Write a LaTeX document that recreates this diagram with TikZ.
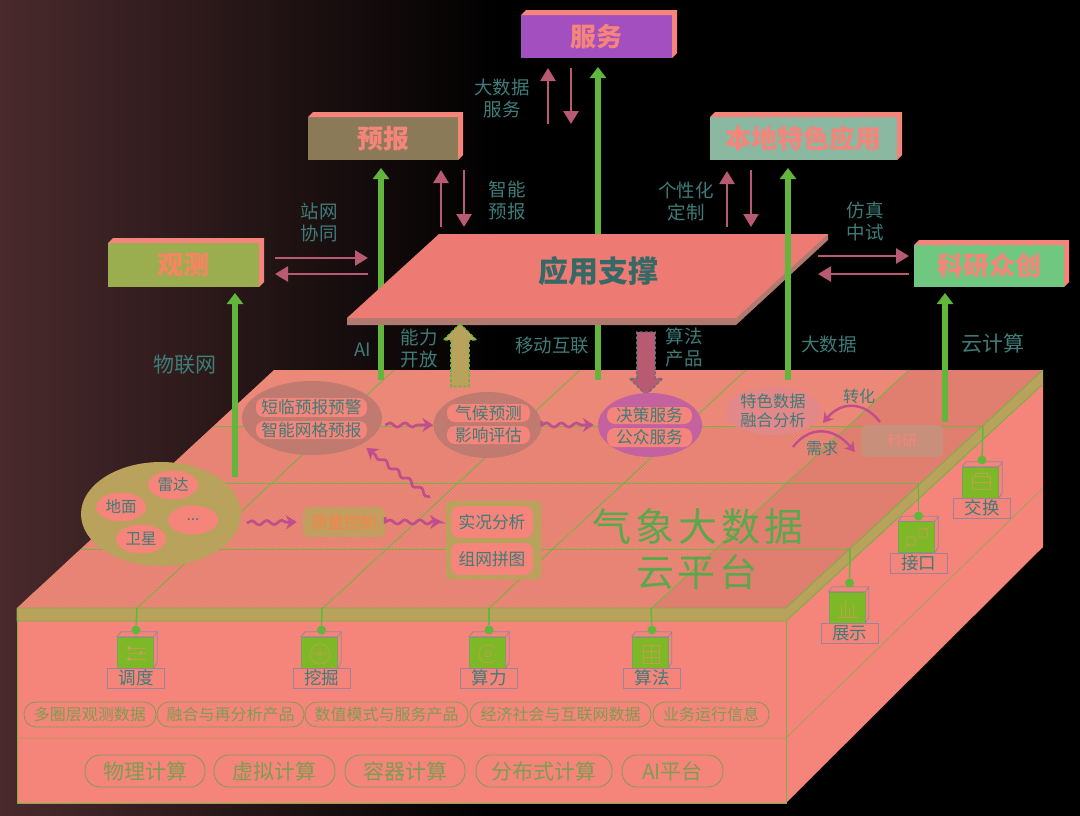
\documentclass[tikz,border=0pt]{standalone}
\usepackage{xcolor}
\usepackage{fontspec}
\setmainfont{Noto Sans CJK SC}
\usetikzlibrary{arrows.meta, shapes.geometric, shapes.arrows, patterns, decorations.pathmorphing}

\definecolor{salmon}{HTML}{F5857A}
\definecolor{deck}{HTML}{EB8877}
\definecolor{deckdark}{HTML}{E07F70}
\definecolor{gold}{HTML}{B9A25C}
\definecolor{teal}{HTML}{3F7C78}
\definecolor{leaf}{HTML}{62B63C}
\definecolor{cubegreen}{HTML}{7DB826}
\definecolor{rose}{HTML}{B85A72}
\definecolor{wave}{HTML}{C04E8C}
\definecolor{olive}{HTML}{7E9C52}
\definecolor{edge}{HTML}{9C8296}

\newcommand{\fs}[1]{\fontsize{#1}{#1}\selectfont}

\begin{document}
\begin{tikzpicture}[
        x=1pt, y=-1pt,
        lift/.style={rectangle, inner sep=0pt, outer sep=0pt, font=\bfseries\fs{26}, text=salmon},
        note/.style={font=\fontsize{18.5}{22}\selectfont, text=teal, align=center, inner sep=0pt},
        widenote/.style={note, font=\fs{21}},
        grid/.style={draw=leaf!75!gold, line width=0.9pt},
        hang/.style={draw=leaf, line width=1.5pt},
        greenup/.style={draw=leaf, line width=6.5pt, -{Triangle[width=16pt, length=11pt]}},
        rosearrow/.style={draw=rose, line width=2.6pt, -{Triangle[width=15pt, length=13pt]}},
        waveline/.style={draw=wave, line width=2.7pt, -{Stealth[width=14pt, length=11pt]}, decorate, decoration={snake, amplitude=2.1pt, segment length=15pt, post length=10pt}},
        bendline/.style={draw=wave, line width=2.4pt, -{Stealth[width=12pt, length=10pt]}},
        pill/.style={rectangle, rounded corners=8pt, fill=salmon, inner sep=0pt, outer sep=0pt, font=\fs{16.7}, text=teal},
        bubble/.style={ellipse, fill=salmon, inner sep=0pt, minimum width=50pt, minimum height=29pt, font=\fs{15.5}, text=teal},
        tag/.style={rectangle, draw=edge, fill=salmon, line width=0.9pt, inner sep=0pt, font=\fs{17.5}, text=teal},
        frontcube/.style={rectangle, fill=cubegreen, draw=leaf!60!edge, line width=0.7pt, inner sep=0pt, minimum width=36pt, minimum height=31pt},
        datapill/.style={rectangle, rounded corners=12pt, draw=olive, fill=salmon, line width=0.8pt, inner sep=0pt, minimum height=25pt, font=\fs{16}, text=olive},
        calcpill/.style={rectangle, rounded corners=15pt, draw=olive, fill=salmon, line width=0.8pt, inner sep=0pt, minimum height=32pt, font=\fs{21}, text=olive},
        dot/.style={circle, fill=leaf, inner sep=0pt, minimum size=9pt},
        icon/.style={draw=gold!85!orange, line width=0.8pt},
        blockarrow/.style={single arrow, line width=1.3pt, densely dashed, inner xsep=0pt, inner ysep=8.5pt, single arrow head extend=7.5pt, minimum height=63pt}
    ]
    \useasboundingbox (0,0) rectangle (1080,815);

    % Background
    \fill[black] (-1,-1) rectangle (1081,816);
    \shade[left color={rgb,255:red,74;green,42;blue,44}, right color=black] (-1,-1) rectangle (500,816);

    % Platform faces
    \fill[salmon] (17,621) -- (786,621) -- (786,803) -- (17,803) -- cycle;
    \fill[salmon] (786,621) -- (1043,384) -- (1043,547) -- (786,803) -- cycle;
    \fill[deck] (17,608) -- (786,608) -- (1043,370) -- (274,370) -- cycle;
    \fill[deckdark] (652,608) -- (786,608) -- (1043,370) -- (909,370) -- cycle;
    \fill[pattern=north east lines, pattern color=deckdark] (17,608) -- (652,608) -- (848,426) -- (214,426) -- cycle;
    \fill[gold] (17,608) -- (786,608) -- (1043,370) -- (1043,384) -- (786,621) -- (17,621) -- cycle;
    \draw[grid] (17,621) -- (17,803) -- (786,803) -- (786,621);
    \draw[grid] (17,608) -- (17,621) -- (786,621) -- (1043,384);
    \draw[grid] (17,608) -- (786,608) -- (1043,370);
    \draw[grid, line width=0.5pt] (17,738) -- (786,738) -- (1043,488);

    % Grid on the deck
    \draw[grid] (214,426) -- (983,426);
    \draw[grid] (152,483) -- (919,483);
    \draw[grid] (81,549) -- (850,549);
    \draw[grid] (137,608) -- (394,370);
    \draw[grid] (323,608) -- (580,370);
    \draw[grid] (489,608) -- (746,370);
    \draw[grid] (652,608) -- (909,370);

    % Top level boxes
    \node[lift, fill={rgb,255:red,154;green,174;blue,80}, minimum width=151pt, minimum height=44pt, text=orange!20!salmon] (observe) at (183.5,265) {观测};
    \node[lift, fill={rgb,255:red,138;green,122;blue,88}, minimum width=150pt, minimum height=43pt] (forecast) at (383,138.5) {预报};
    \node[lift, fill={rgb,255:red,164;green,79;blue,192}, minimum width=151pt, minimum height=43pt] (service) at (596.5,36.5) {服务};
    \node[lift, fill={rgb,255:red,138;green,184;blue,160}, minimum width=187pt, minimum height=43pt] (local) at (803.5,138.5) {本地特色应用};
    \node[lift, fill={rgb,255:red,112;green,200;blue,128}, minimum width=150pt, minimum height=42pt] (research) at (989,266) {科研众创};
    \fill[salmon] (observe.north west) -- ++(5,-5) -- ++(151,0) -- ++(0,44) -- (observe.south east) -- (observe.north east) -- cycle;
    \fill[salmon] (forecast.north west) -- ++(5,-5) -- ++(150,0) -- ++(0,43) -- (forecast.south east) -- (forecast.north east) -- cycle;
    \fill[salmon] (service.north west) -- ++(5,-5) -- ++(151,0) -- ++(0,43) -- (service.south east) -- (service.north east) -- cycle;
    \fill[salmon] (local.north west) -- ++(5,-5) -- ++(187,0) -- ++(0,43) -- (local.south east) -- (local.north east) -- cycle;
    \fill[salmon] (research.north west) -- ++(5,-5) -- ++(150,0) -- ++(0,42) -- (research.south east) -- (research.north east) -- cycle;

    % Anchors for the green arrows
    \coordinate (iotbase) at (235,477);
    \coordinate (aibase) at (381,380);
    \coordinate (mobilebase) at (598,380);
    \coordinate (bigdatabase) at (788,380);
    \coordinate (cloudbase) at (945,422);
    \draw[greenup, shorten >=6pt] (iotbase) -- (iotbase |- observe.south);
    \draw[greenup, shorten >=8pt] (aibase) -- (aibase |- forecast.south);
    \draw[greenup, shorten >=9pt] (mobilebase) -- (mobilebase |- service.south);
    \draw[greenup, shorten >=6pt] (cloudbase) -- (cloudbase |- research.south);

    % Application plate
    \fill[fill={rgb,255:red,176;green,122;blue,112}] (347,318) -- (347,325) -- (736,325) -- (828,240) -- (828,234) -- cycle;
    \fill[fill={rgb,255:red,238;green,122;blue,116}] (439,234) -- (828,234) -- (736,318) -- (347,318) -- cycle;
    \node[font=\bfseries\fs{30}, text=teal!85!black, inner sep=0pt] (support) at (598,271) {应用支撑};

    % Green arrow in front of the plate
    \draw[greenup, shorten >=8pt] (bigdatabase) -- (bigdatabase |- local.south);

    % Block arrows
    \node[blockarrow, rotate=90, fill=gold, draw=leaf] (openup) at (460,359.5) {};
    \node[blockarrow, rotate=-90, fill=rose, draw=teal!70!rose] (algodown) at (646,359) {};

    % Rose arrows between the boxes and the plate
    \coordinate (obsout) at (275,258);
    \coordinate (obsin) at (368,258);
    \coordinate (obsback) at (368,274);
    \coordinate (obsend) at (275,274);
    \coordinate (sciout) at (818,256);
    \coordinate (sciback) at (909,274);
    \coordinate (sciend) at (818,274);
    \coordinate (fcup) at (441,227);
    \coordinate (fcdown) at (464,227);
    \coordinate (srvup) at (548,124);
    \coordinate (srvdown) at (571,124);
    \coordinate (locup) at (727,227);
    \coordinate (locdown) at (751,227);
    \draw[rosearrow] (obsout) -- (obsin);
    \draw[rosearrow] (obsback) -- (obsend);
    \draw[rosearrow, shorten >=5pt] (sciout) -- (sciout -| research.west);
    \draw[rosearrow] (sciback) -- (sciend);
    \draw[rosearrow, shorten >=10pt] (fcup) -- (fcup |- forecast.south);
    \draw[rosearrow, shorten <=10pt] (fcdown |- forecast.south) -- (fcdown);
    \draw[rosearrow, shorten >=10pt] (srvup) -- (srvup |- service.south);
    \draw[rosearrow, shorten <=10pt] (srvdown |- service.south) -- (srvdown);
    \draw[rosearrow, shorten >=11pt] (locup) -- (locup |- local.south);
    \draw[rosearrow, shorten <=10pt] (locdown |- local.south) -- (locdown);

    % Labels above the platform
    \node[widenote] (iotnote) at (185,365) {物联网};
    \node[note] (netnote) at (319,222) {站网\\协同};
    \node[note] (bignote) at (502,98) {大数据\\服务};
    \node[note] (smartnote) at (507,200) {智能\\预报};
    \node[note] (customnote) at (686,201) {个性化\\定制};
    \node[note] (simnote) at (865,221) {仿真\\中试};
    \node[note] (ainote) at (363,350) {AI};
    \node[note] (opennote) at (419,348) {能力\\开放};
    \node[note] (mobilenote) at (552,346) {移动互联};
    \node[note] (algonote) at (684,347) {算法\\产品};
    \node[note] (datanote) at (829,344) {大数据};
    \node[widenote] (cloudnote) at (993,343) {云计算};

    % Forecast chain on the deck
    \node[ellipse, fill={rgb,255:red,192;green,122;blue,112}, inner sep=0pt, minimum width=140pt, minimum height=74pt] (nowcast) at (312,418) {};
    \node[pill, minimum width=111pt, minimum height=19pt] (nowpill) at (311.5,407.5) {短临预报预警};
    \node[pill, minimum width=111pt, minimum height=18pt] (gridpill) at (311.5,430) {智能网格预报};
    \node[ellipse, fill={rgb,255:red,192;green,122;blue,112}, inner sep=0pt, minimum width=108pt, minimum height=66pt] (climate) at (487.5,425) {};
    \node[pill, minimum width=83pt, minimum height=18pt] (climpill) at (488.5,413) {气候预测};
    \node[pill, minimum width=83pt, minimum height=18pt] (effectpill) at (488.5,435) {影响评估};
    \node[ellipse, fill={rgb,255:red,196;green,98;blue,160}, inner sep=0pt, minimum width=104pt, minimum height=64pt] (publish) at (650,425) {};
    \node[pill, minimum width=85pt, minimum height=17pt] (decisionpill) at (649.5,415.5) {决策服务};
    \node[pill, minimum width=85pt, minimum height=19pt] (publicpill) at (649.5,437.5) {公众服务};
    \node[ellipse, fill={rgb,255:red,226;green,136;blue,136}, inner sep=0pt, minimum width=96pt, minimum height=44pt, font=\fontsize{16.3}{19}\selectfont, text=teal, align=center] (special) at (773,411) {特色数据\\融合分析};
    \node[rectangle, rounded corners=5pt, fill={rgb,255:red,200;green,144;blue,122}, minimum width=82pt, minimum height=32pt, inner sep=0pt, font=\fs{15}, text=salmon] (science) at (902,441) {科研};

    % Observation cluster
    \node[ellipse, fill=gold, inner sep=0pt, minimum width=160pt, minimum height=104pt] (source) at (161,514) {};
    \node[bubble] (radar) at (173,485) {雷达};
    \node[bubble] (ground) at (121,507) {地面};
    \node[bubble] (more) at (193,520) {...};
    \node[bubble] (satellite) at (141,539) {卫星};
    \node[rectangle, rounded corners=5pt, fill=gold!85!salmon, minimum width=82pt, minimum height=30pt, inner sep=0pt, font=\fs{16.3}, text=orange!40!salmon] (quality) at (344,522) {质量控制};
    \node[rectangle, rounded corners=4pt, fill=gold, minimum width=95pt, minimum height=78pt, inner sep=0pt] (analysis) at (493.5,540) {};
    \node[pill, minimum width=82pt, minimum height=32pt] (livepill) at (492,522) {实况分析};
    \node[pill, minimum width=82pt, minimum height=32pt] (meshpill) at (492,559) {组网拼图};

    % Wavy links
    \coordinate (wavestart) at (247,523);
    \coordinate (backstart) at (430,497);
    \draw[waveline, shorten >=6pt] (wavestart) -- (quality.west);
    \draw[waveline, shorten <=5pt, shorten >=10pt] (quality.east) -- (livepill.west);
    \draw[waveline] (nowcast.east |- climate.west) ++(3,0) -- (climate.west);
    \draw[waveline, shorten <=4pt, shorten >=4pt] (climate.east) -- (publish.west);
    \draw[waveline, shorten >=6pt] (backstart) -- (nowcast.south east);

    % Bends around the science block
    \coordinate (turnstart) at (880,422);
    \coordinate (turnend) at (823,423);
    \coordinate (needstart) at (793,447);
    \coordinate (needend) at (855,452);
    \draw[bendline] (turnstart) .. controls +(-16,-21) and +(18,-22) .. (turnend);
    \draw[bendline] (needstart) .. controls +(16,-21) and +(-22,-26) .. (needend);
    \node[font=\fs{16}, text=teal, inner sep=0pt] (turnnote) at (859,396) {转化};
    \node[font=\fs{16}, text=teal, inner sep=0pt] (neednote) at (822,448) {需求};

    % Title on the deck
    \node[font=\fs{39}\addfontfeature{LetterSpace=10}, text=leaf!75!teal, inner sep=0pt] (titleone) at (698,527) {气象大数据};
    \node[font=\fs{38}\addfontfeature{LetterSpace=8}, text=leaf!75!teal, inner sep=0pt] (titletwo) at (697,572) {云平台};

    % Cubes on the front face
    \foreach \name/\word/\cx/\tx in {dispatch/调度/135.5/136, mine/挖掘/319.5/321.5, power/算力/487.5/489, algo/算法/650/652}{
        \node[frontcube] (\name) at (\cx,652.5) {};
        \draw[edge, line width=0.8pt] (\name.north west) -- ++(4,-5) -- ++(36,0) -- ++(0,31) -- (\name.south east) (\name.north east) -- ++(4,-5) (\name.north west) -- (\name.north east);
        \node[tag, minimum width=57pt, minimum height=20pt] (\name tag) at (\tx,678) {\word};
        \node[dot] (\name dot) at (\tx,630) {};
    }
    \foreach \name/\tx in {dispatch/137, mine/322, power/489, algo/651}{
        \coordinate (\name top) at (\tx,608);
        \draw[hang] (\name top) -- (\name dot);
    }

    % Cubes on the right face
    \foreach \name/\word/\cx/\cy/\tx/\ty/\dy in {show/展示/847/607.5/849.5/633/583, port/接口/916.5/537/918.5/563/516, swap/交换/980.5/482.5/982/508/460}{
        \node[frontcube] (\name) at (\cx,\cy) {};
        \draw[edge, line width=0.8pt] (\name.north west) -- ++(4,-5) -- ++(36,0) -- ++(0,31) -- (\name.south east) (\name.north east) -- ++(4,-5) (\name.north west) -- (\name.north east);
        \node[tag, minimum width=57pt, minimum height=20pt] (\name tag) at (\tx,\ty) {\word};
        \node[dot] (\name dot) at (\tx,\dy) {};
    }
    \coordinate (showtop) at (850,549);
    \coordinate (porttop) at (918.5,483);
    \coordinate (swaptop) at (983,426);
    \draw[hang] (showtop) -- (showdot);
    \draw[hang] (porttop) -- (portdot);
    \draw[hang] (swaptop) -- (swapdot);

    % Icons
    \draw[icon] (128,648) -- (146,648) (128,653) -- (146,653) (128,659) -- (146,659);
    \fill[gold] (129,648) circle[radius=2pt] (141,653) circle[radius=2pt] (129,659) circle[radius=2pt];
    \draw[icon] (320,654) circle[radius=10pt] (320,654) circle[radius=2pt] (320,647) -- (320,651) (320,657) -- (320,661) (313,654) -- (317,654) (323,654) -- (327,654);
    \draw[icon] (488,654) ++(40:9pt) arc[start angle=40, end angle=320, radius=9pt] (488,654) circle[radius=3pt];
    \draw[icon] (643,645) rectangle (659,663) (651,645) -- (651,663) (643,651) -- (659,651) (643,657) -- (659,657);
    \draw[icon] (838,617) -- (858,617) (841,617) -- (841,606) (845,617) -- (845,600) (849,617) -- (849,609) (853,617) -- (853,604);
    \draw[icon] (911,541) circle[radius=5pt] (923,533) circle[radius=5pt] (905,548) -- (909,544) (925,530) -- (930,526);
    \draw[icon] (972,476) rectangle (990,482) (972,482) rectangle (990,489) (975,476) -- (975,473) -- (987,473) -- (987,476);

    % Data sources
    \node[datapill, minimum width=132pt] (layerdata) at (90,714.5) {多圈层观测数据};
    \node[datapill, minimum width=147pt] (fusiondata) at (230.5,714.5) {融合与再分析产品};
    \node[datapill, minimum width=163pt] (modeldata) at (386.5,714.5) {数值模式与服务产品};
    \node[datapill, minimum width=181pt] (socialdata) at (560.5,714.5) {经济社会与互联网数据};
    \node[datapill, minimum width=116pt] (opsdata) at (711,714.5) {业务运行信息};

    % Compute layer
    \node[calcpill, minimum width=120pt] (physcalc) at (145,771) {物理计算};
    \node[calcpill, minimum width=121pt] (virtcalc) at (274.5,771) {虚拟计算};
    \node[calcpill, minimum width=120pt] (boxcalc) at (405,771) {容器计算};
    \node[calcpill, minimum width=136pt] (distcalc) at (544,771) {分布式计算};
    \node[calcpill, minimum width=101pt] (aicalc) at (672.5,771) {AI平台};
\end{tikzpicture}
\end{document}
